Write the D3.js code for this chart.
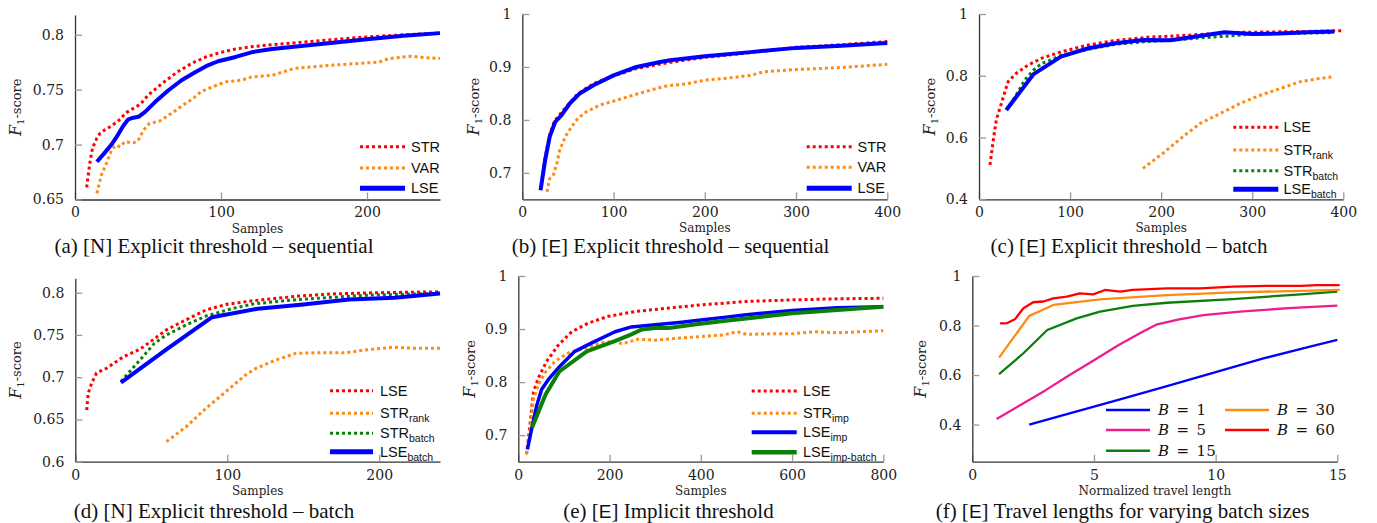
<!DOCTYPE html>
<html>
<head>
<meta charset="utf-8">
<script src="https://cdn.jsdelivr.net/npm/d3@7"></script>
<style>
  body { margin: 0; background: white; }
</style>
</head>
<body>
<div id="fig"></div>
<script>
// ---- (a) [N] explicit threshold, sequential
var a_str_x = [8, 10, 12, 15, 17, 20, 25, 30, 35, 40, 45, 50, 60, 70, 80, 90, 100, 110, 120, 135, 150, 175, 200, 225, 250];
var a_str_y = [0.661, 0.682, 0.697, 0.706, 0.710, 0.713, 0.717, 0.722, 0.729, 0.733, 0.737, 0.745, 0.756, 0.766, 0.774, 0.780, 0.784, 0.787, 0.789, 0.791, 0.7925, 0.7955, 0.798, 0.800, 0.8015];
var a_var_x = [15, 18, 22, 25, 28, 31, 34, 40, 43, 47, 51, 58, 66, 74, 81, 86, 94, 103, 114, 121, 135, 150, 175, 200, 208, 215, 230, 240, 250];
var a_var_y = [0.6556, 0.672, 0.6844, 0.695, 0.6995, 0.698, 0.7025, 0.7016, 0.7032, 0.7132, 0.7193, 0.7214, 0.7284, 0.736, 0.742, 0.748, 0.7525, 0.7571, 0.7586, 0.7616, 0.763, 0.7693, 0.7722, 0.7744, 0.775, 0.7783, 0.7805, 0.779, 0.7786];
var a_lse_x = [15, 20, 25, 28.5, 33, 36.5, 40, 43.5, 48, 55, 64, 73, 82, 91, 98, 110, 122, 135, 150, 175, 200, 225, 250];
var a_lse_y = [0.6844, 0.692, 0.700, 0.707, 0.717, 0.723, 0.7245, 0.7253, 0.7298, 0.7389, 0.7495, 0.7586, 0.7656, 0.7722, 0.7759, 0.7798, 0.7844, 0.787, 0.789, 0.7925, 0.796, 0.799, 0.8015];

// ---- (b) [E] explicit threshold, sequential
var b_str_x = [20, 25, 30, 35, 40, 50, 60, 70, 80, 100, 125, 150, 175, 200, 250, 300, 350, 400];
var b_str_y = [0.668, 0.728, 0.772, 0.797, 0.808, 0.828, 0.848, 0.860, 0.870, 0.883, 0.897, 0.905, 0.912, 0.918, 0.927, 0.937, 0.942, 0.948];
var b_var_x = [27, 30, 34, 38, 41, 47, 54, 61, 70, 85, 103, 122, 140, 158, 180, 200, 225, 250, 265, 300, 350, 400];
var b_var_y = [0.664, 0.689, 0.696, 0.718, 0.743, 0.768, 0.787, 0.803, 0.815, 0.828, 0.837, 0.847, 0.856, 0.864, 0.868, 0.875, 0.879, 0.884, 0.891, 0.895, 0.899, 0.905];
var b_lse_x = [20, 25, 30, 36, 43, 52, 63, 78, 100, 125, 151, 162, 200, 250, 300, 350, 400];
var b_lse_y = [0.667, 0.724, 0.768, 0.796, 0.809, 0.831, 0.850, 0.8655, 0.884, 0.900, 0.9094, 0.9126, 0.920, 0.928, 0.936, 0.940, 0.945];

// ---- (c) [E] explicit threshold, batch
var c_lse_x = [12, 16, 19, 23, 28.5, 32, 41, 54, 69, 91, 120, 149, 186, 215, 250, 270, 300, 350, 400];
var c_lse_y = [0.511, 0.598, 0.657, 0.695, 0.749, 0.781, 0.808, 0.835, 0.857, 0.878, 0.900, 0.914, 0.925, 0.929, 0.935, 0.940, 0.941, 0.943, 0.946];
var c_rank_x = [180, 202, 224, 243, 265, 287, 309, 331, 353, 371, 389];
var c_rank_y = [0.500, 0.549, 0.603, 0.646, 0.678, 0.711, 0.737, 0.759, 0.781, 0.790, 0.797];
var c_strb_x = [30, 43, 50, 60, 69, 80, 91, 120, 150, 180, 210, 240, 270, 300, 330, 360, 390];
var c_strb_y = [0.689, 0.748, 0.786, 0.819, 0.840, 0.853, 0.867, 0.886, 0.902, 0.910, 0.915, 0.922, 0.928, 0.935, 0.937, 0.938, 0.940];
var c_lseb_x = [30, 60, 90, 120, 150, 180, 210, 240, 270, 300, 330, 360, 390];
var c_lseb_y = [0.689, 0.8055, 0.862, 0.889, 0.905, 0.916, 0.915, 0.928, 0.941, 0.935, 0.937, 0.941, 0.943];

// ---- (d) [N] explicit threshold, batch
var d_lse_x = [7.5, 8.5, 10.8, 14, 20.6, 31.5, 42.5, 51, 60, 73, 86, 99, 117, 147, 169, 200, 240];
var d_lse_y = [0.661, 0.681, 0.693, 0.705, 0.7105, 0.724, 0.733, 0.744, 0.756, 0.768, 0.7795, 0.786, 0.7905, 0.796, 0.7985, 0.800, 0.801];
var d_rank_x = [60, 73, 86, 99, 112, 119, 132, 145, 160, 178, 191, 209, 224, 240];
var d_rank_y = [0.6237, 0.6414, 0.6632, 0.6828, 0.7026, 0.7105, 0.7203, 0.7282, 0.729, 0.729, 0.7322, 0.7354, 0.7342, 0.7342];
var d_strb_x = [30, 42.5, 52, 60, 73, 86, 104, 117, 143, 169, 191, 240];
var d_strb_y = [0.695, 0.7203, 0.740, 0.750, 0.7618, 0.7724, 0.7815, 0.7866, 0.7914, 0.7945, 0.797, 0.7993];
var d_lseb_x = [30, 60, 90, 120, 150, 180, 210, 240];
var d_lseb_y = [0.6935, 0.733, 0.771, 0.781, 0.786, 0.792, 0.794, 0.799];

// ---- (e) [E] implicit threshold
var e_lse_x = [18, 26, 33, 44, 62, 88, 117, 153, 197, 256, 322, 400, 500, 600, 700, 800];
var e_lse_y = [0.664, 0.723, 0.780, 0.808, 0.839, 0.870, 0.895, 0.911, 0.924, 0.933, 0.939, 0.9455, 0.952, 0.955, 0.957, 0.958];
var e_strimp_x = [18, 26, 33, 44, 58, 80, 110, 146, 183, 212, 227, 263, 300, 343, 400, 450, 480, 500, 550, 600, 650, 700, 750, 800];
var e_strimp_y = [0.664, 0.710, 0.767, 0.795, 0.817, 0.839, 0.855, 0.864, 0.874, 0.877, 0.872, 0.881, 0.879, 0.882, 0.886, 0.889, 0.895, 0.890, 0.891, 0.891, 0.895, 0.893, 0.895, 0.897];
var e_lseimp_x = [20, 29, 40, 51, 66, 88, 124, 161, 212, 248, 300, 358, 400, 450, 500, 600, 700, 800];
var e_lseimp_y = [0.673, 0.711, 0.7545, 0.786, 0.805, 0.827, 0.858, 0.874, 0.895, 0.904, 0.908, 0.913, 0.917, 0.922, 0.927, 0.935, 0.940, 0.942];
var e_lseib_x = [30, 60, 90, 150, 210, 240, 270, 300, 330, 390, 450, 510, 600, 700, 800];
var e_lseib_y = [0.714, 0.777, 0.820, 0.858, 0.877, 0.887, 0.899, 0.902, 0.902, 0.909, 0.915, 0.921, 0.930, 0.936, 0.942];

// ---- (f) [E] travel length vs batch size
var f_b1_x = [2.34, 4, 6, 8, 10, 12, 14, 15];
var f_b1_y = [0.400, 0.445, 0.500, 0.555, 0.612, 0.668, 0.718, 0.742];
var f_b5_x = [1, 2, 3, 4, 5, 6, 7, 7.6, 8.5, 9.5, 11, 13, 15];
var f_b5_y = [0.422, 0.480, 0.538, 0.600, 0.660, 0.720, 0.775, 0.805, 0.825, 0.842, 0.856, 0.870, 0.880];
var f_b15_x = [1.1, 2.1, 3.08, 4.29, 5.25, 6.6, 8, 10.7, 13.5, 15];
var f_b15_y = [0.6034, 0.688, 0.782, 0.829, 0.856, 0.879, 0.892, 0.907, 0.926, 0.937];
var f_b30_x = [1.1, 2.34, 3.33, 5.25, 8, 10.7, 13.5, 15.1];
var f_b30_y = [0.6705, 0.839, 0.883, 0.906, 0.923, 0.934, 0.940, 0.9436];
var f_b60_x = [1.14, 1.44, 1.75, 2.1, 2.5, 2.92, 3.33, 3.88, 4.42, 4.97, 5.45, 6.07, 6.6, 8, 9.36, 10.7, 12.1, 13.5, 14.15, 15.1];
var f_b60_y = [0.809, 0.810, 0.825, 0.870, 0.894, 0.897, 0.910, 0.9166, 0.930, 0.926, 0.9436, 0.937, 0.9436, 0.950, 0.950, 0.957, 0.960, 0.960, 0.963, 0.963];

var RED = "#ff0000", ORANGE = "#ff8a14", BLUE = "#0000ff", GREEN = "#0a800a", PINK = "#ec1d8f";
var SERIF = "DejaVu Serif", SANS = "Liberation Sans", CAPFONT = "Liberation Serif";

class PANEL {
  constructor(svg, left, right, top, bottom, xdom, ydom)
  {
    this.svg = svg;
    this.left = left;
    this.right = right;
    this.top = top;
    this.bottom = bottom;
    this.x = d3.scaleLinear().domain(xdom).range([left, right]);
    this.y = d3.scaleLinear().domain(ydom).range([bottom, top]);
    this.g = svg.append("g");
  }

  writeAxes(xticks, yticks, xlabel, ylab_x)
  {
    var xa = d3.axisBottom(this.x).tickValues(xticks).tickSize(-7).tickSizeOuter(0)
      .tickPadding(8).tickFormat(d => String(d));
    var ya = d3.axisLeft(this.y).tickValues(yticks).tickSize(-7).tickSizeOuter(0)
      .tickPadding(11).tickFormat(d => String(d));

    var gx = this.g.append("g").attr("transform", "translate(0," + this.bottom + ")").call(xa);
    var gy = this.g.append("g").attr("transform", "translate(" + this.left + ",0)").call(ya);

    [gx, gy].forEach(function(a) {
      a.attr("font-family", SERIF).attr("font-size", 14);
      a.selectAll(".tick line").attr("stroke", "#999").attr("stroke-width", 1.3);
      a.selectAll(".tick text").attr("fill", "#222");
      a.select(".domain").attr("stroke", "#333").attr("stroke-width", 1.3);
    });

    this.g.append("text")
      .attr("x", (this.left + this.right) / 2)
      .attr("y", this.bottom + 33)
      .attr("text-anchor", "middle")
      .style("font-family", SERIF)
      .style("font-size", "12px")
      .style("fill", "#222")
      .text(xlabel);

    var lab = this.g.append("text")
      .attr("transform", "translate(" + ylab_x + "," + ((this.top + this.bottom) / 2) + ") rotate(-90)")
      .attr("text-anchor", "middle")
      .style("font-family", SERIF)
      .style("font-size", "13px")
      .style("fill", "#222");
    lab.append("tspan").style("font-style", "italic").style("font-size", "16px").text("F");
    lab.append("tspan").style("font-size", "10px").attr("dy", 3).text("1");
    lab.append("tspan").attr("dy", -3).text("-score");
  }

  writeLine(xs, ys, color, width, dotted)
  {
    var pts = xs.map((v, i) => [v, ys[i]]);
    var line = d3.line().x(d => this.x(d[0])).y(d => this.y(d[1]));
    var p = this.g.append("path")
      .attr("d", line(pts))
      .attr("fill", "none")
      .attr("stroke", color)
      .attr("stroke-width", width)
      .attr("stroke-linejoin", "round");
    if(dotted)
    {
      p.attr("stroke-dasharray", "3,3");
    }
  }

  writeLegend(entries, x0, x1, tx, rows)
  {
    for(var p = 0; p < entries.length; p++)
    {
      var e = entries[p];
      var ln = this.g.append("line")
        .attr("x1", x0).attr("x2", x1)
        .attr("y1", rows[p]).attr("y2", rows[p])
        .attr("stroke", e.color)
        .attr("stroke-width", e.lw);
      if(e.dotted)
      {
        ln.attr("stroke-dasharray", "3,3");
      }
      var t = this.g.append("text")
        .attr("x", tx)
        .attr("y", rows[p] + 5)
        .style("font-family", SANS)
        .style("font-size", "14.5px")
        .style("fill", "#111");
      t.append("tspan").text(e.name);
      if(e.sub)
      {
        t.append("tspan").attr("dy", 4).style("font-size", "10.5px").text(e.sub);
      }
    }
  }

  writeBLegend(entries)
  {
    for(var p = 0; p < entries.length; p++)
    {
      var e = entries[p];
      this.g.append("line")
        .attr("x1", e.x0).attr("x2", e.x0 + 44)
        .attr("y1", e.y).attr("y2", e.y)
        .attr("stroke", e.color)
        .attr("stroke-width", 2.5);
      var t = this.g.append("text")
        .attr("x", e.x0 + 52)
        .attr("y", e.y + 5)
        .style("font-family", SERIF)
        .style("font-size", "15px")
        .style("fill", "#111");
      t.append("tspan").style("font-style", "italic").text("B");
      t.append("tspan").text("\u2002=\u2002" + e.val);
    }
  }
}

function caption(svg, cx, y, pre, tag, post)
{
  var t = svg.append("text")
    .attr("x", cx)
    .attr("y", y)
    .attr("text-anchor", "middle")
    .style("font-family", CAPFONT)
    .style("font-size", "21px")
    .style("fill", "#111");
  t.append("tspan").text(pre + "[");
  var tg = t.append("tspan").text(tag);
  if(tag == "E")
  {
    tg.style("font-family", SANS).style("font-size", "19px");
  }
  t.append("tspan").text("] " + post);
}

var svg = d3.select("#fig").append("svg")
  .attr("width", 1377)
  .attr("height", 523);
svg.append("rect").attr("width", 1377).attr("height", 523).attr("fill", "white");

// (a)
var pa = new PANEL(svg, 75, 440, 15, 199.5, [0, 250], [0.65, 0.818]);
pa.writeAxes([0, 100, 200], [0.65, 0.7, 0.75, 0.8], "Samples", 21);
pa.writeLine(a_str_x, a_str_y, RED, 3, true);
pa.writeLine(a_var_x, a_var_y, ORANGE, 3, true);
pa.writeLine(a_lse_x, a_lse_y, BLUE, 4, false);
pa.writeLegend([
  {name: "STR", color: RED, lw: 3, dotted: true},
  {name: "VAR", color: ORANGE, lw: 3, dotted: true},
  {name: "LSE", color: BLUE, lw: 5, dotted: false}
], 360, 405, 411, [146.7, 168, 188.3]);

// (b)
var pb = new PANEL(svg, 522.3, 887.3, 14, 199.3, [0, 400], [0.65, 1]);
pb.writeAxes([0, 100, 200, 300, 400], [0.7, 0.8, 0.9, 1], "Samples", 478.5);
pb.writeLine(b_str_x, b_str_y, RED, 3, true);
pb.writeLine(b_var_x, b_var_y, ORANGE, 3, true);
pb.writeLine(b_lse_x, b_lse_y, BLUE, 4, false);
pb.writeLegend([
  {name: "STR", color: RED, lw: 3, dotted: true},
  {name: "VAR", color: ORANGE, lw: 3, dotted: true},
  {name: "LSE", color: BLUE, lw: 5, dotted: false}
], 806.7, 851.7, 857.5, [146.7, 167.3, 188.3]);

// (c)
var pc = new PANEL(svg, 979, 1343.3, 14, 199.3, [0, 400], [0.4, 1]);
pc.writeAxes([0, 100, 200, 300, 400], [0.4, 0.6, 0.8, 1], "Samples", 935);
pc.writeLine(c_lse_x, c_lse_y, RED, 3, true);
pc.writeLine(c_rank_x, c_rank_y, ORANGE, 3, true);
pc.writeLine(c_strb_x, c_strb_y, GREEN, 3, true);
pc.writeLine(c_lseb_x, c_lseb_y, BLUE, 4, false);
pc.writeLegend([
  {name: "LSE", color: RED, lw: 3, dotted: true},
  {name: "STR", sub: "rank", color: ORANGE, lw: 3, dotted: true},
  {name: "STR", sub: "batch", color: GREEN, lw: 3, dotted: true},
  {name: "LSE", sub: "batch", color: BLUE, lw: 5, dotted: false}
], 1233.3, 1278.3, 1283.5, [127.3, 150, 170.7, 189.3]);

// (d)
var pd = new PANEL(svg, 75.3, 440, 278.3, 461.7, [0, 240], [0.6, 0.817]);
pd.writeAxes([0, 100, 200], [0.6, 0.65, 0.7, 0.75, 0.8], "Samples", 21);
pd.writeLine(d_lse_x, d_lse_y, RED, 3, true);
pd.writeLine(d_rank_x, d_rank_y, ORANGE, 3, true);
pd.writeLine(d_strb_x, d_strb_y, GREEN, 3, true);
pd.writeLine(d_lseb_x, d_lseb_y, BLUE, 4, false);
pd.writeLegend([
  {name: "LSE", color: RED, lw: 3, dotted: true},
  {name: "STR", sub: "rank", color: ORANGE, lw: 3, dotted: true},
  {name: "STR", sub: "batch", color: GREEN, lw: 3, dotted: true},
  {name: "LSE", sub: "batch", color: BLUE, lw: 5, dotted: false}
], 330, 373, 380, [390.7, 413.3, 433.3, 451.7]);

// (e)
var pe = new PANEL(svg, 518.3, 883.3, 276, 461.7, [0, 800], [0.65, 1]);
pe.writeAxes([0, 200, 400, 600, 800], [0.7, 0.8, 0.9, 1], "Samples", 475);
pe.writeLine(e_lse_x, e_lse_y, RED, 3, true);
pe.writeLine(e_strimp_x, e_strimp_y, ORANGE, 3, true);
pe.writeLine(e_lseimp_x, e_lseimp_y, BLUE, 3.5, false);
pe.writeLine(e_lseib_x, e_lseib_y, GREEN, 4, false);
pe.writeLegend([
  {name: "LSE", color: RED, lw: 3, dotted: true},
  {name: "STR", sub: "imp", color: ORANGE, lw: 3, dotted: true},
  {name: "LSE", sub: "imp", color: BLUE, lw: 4, dotted: false},
  {name: "LSE", sub: "imp-batch", color: GREEN, lw: 4.5, dotted: false}
], 751.7, 796.7, 803, [391, 413.3, 432.3, 452.3]);

// (f)
var pf = new PANEL(svg, 972.3, 1337.3, 276, 461.7, [0, 15], [0.25, 1]);
pf.writeAxes([0, 5, 10, 15], [0.4, 0.6, 0.8, 1], "Normalized travel length", 926);
pf.writeLine(f_b1_x, f_b1_y, BLUE, 2.3, false);
pf.writeLine(f_b5_x, f_b5_y, PINK, 2.3, false);
pf.writeLine(f_b15_x, f_b15_y, GREEN, 2.3, false);
pf.writeLine(f_b30_x, f_b30_y, ORANGE, 2.3, false);
pf.writeLine(f_b60_x, f_b60_y, RED, 2.3, false);
pf.writeBLegend([
  {val: 1, color: BLUE, x0: 1106, y: 410},
  {val: 5, color: PINK, x0: 1106, y: 430},
  {val: 15, color: GREEN, x0: 1106, y: 450.7},
  {val: 30, color: ORANGE, x0: 1225, y: 410},
  {val: 60, color: RED, x0: 1225, y: 430}
]);

caption(svg, 214, 253, "(a) ", "N", "Explicit threshold \u2013 sequential");
caption(svg, 670.5, 253, "(b) ", "E", "Explicit threshold \u2013 sequential");
caption(svg, 1129, 253, "(c) ", "E", "Explicit threshold \u2013 batch");
caption(svg, 214, 518, "(d) ", "N", "Explicit threshold \u2013 batch");
caption(svg, 668.5, 518, "(e) ", "E", "Implicit threshold");
caption(svg, 1122.5, 518, "(f) ", "E", "Travel lengths for varying batch sizes");
</script>
</body>
</html>
